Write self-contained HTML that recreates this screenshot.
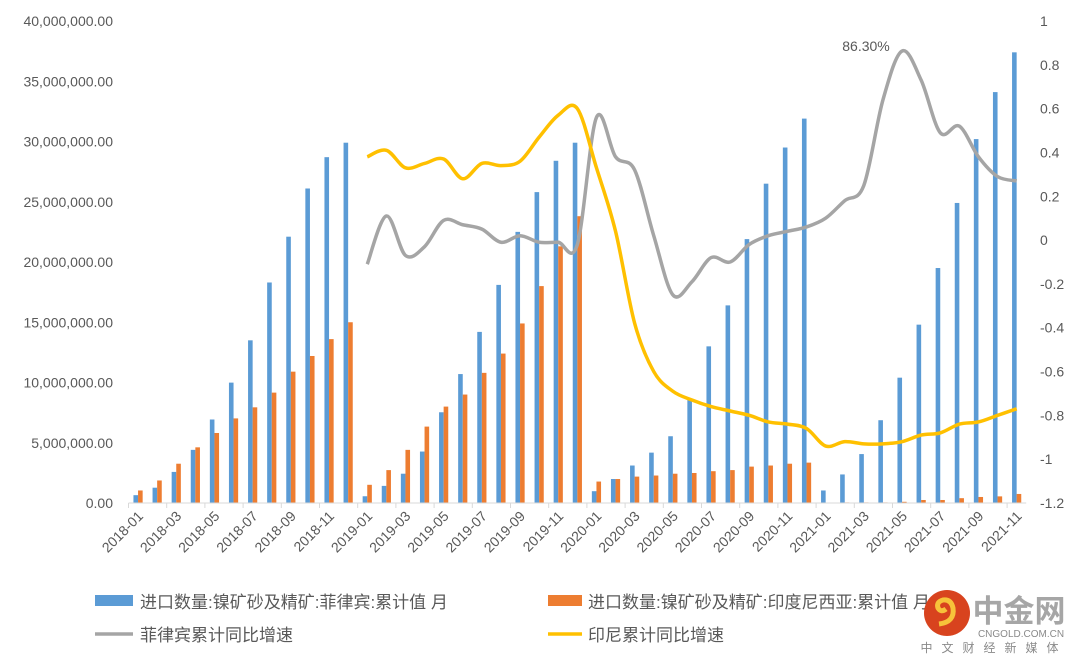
<!DOCTYPE html>
<html><head><meta charset="utf-8"><style>
html,body{margin:0;padding:0;background:#fff;width:1080px;height:663px;overflow:hidden;font-family:"Liberation Sans","Noto Sans CJK SC",sans-serif;}
</style></head><body>
<svg id="chart" width="1080" height="663" xmlns="http://www.w3.org/2000/svg" font-family="Liberation Sans, Noto Sans CJK SC, sans-serif">
<g id="bars"></g>
<g id="lines"></g>
<g id="axes"></g>
<text x="866" y="51" font-size="14" fill="#595959" text-anchor="middle">86.30%</text>
<g font-size="17" fill="#595959">
 <g><rect x="95" y="595" width="38" height="11" fill="#5B9BD5"/><text x="140" y="608">进口数量:镍矿砂及精矿:菲律宾:累计值 月</text></g>
 <g><rect x="548" y="595" width="34" height="11" fill="#ED7D31"/><text x="588" y="608">进口数量:镍矿砂及精矿:印度尼西亚:累计值 月</text></g>
 <g><line x1="95" y1="634" x2="133" y2="634" stroke="#A5A5A5" stroke-width="3.5"/><text x="140" y="641">菲律宾累计同比增速</text></g>
 <g><line x1="548" y1="634" x2="582" y2="634" stroke="#FFC000" stroke-width="3.5"/><text x="588" y="641">印尼累计同比增速</text></g>
</g>
<g>
 <circle cx="947" cy="613" r="23" fill="#D8431E"/>
 <path d="M939 624 q16 -2 14 -16 q-2 -9 -10 -8 q-7 2 -5 8 q3 5 8 1" fill="none" stroke="#F7C23A" stroke-width="5"/>
 <text x="1019" y="622" font-size="31" font-weight="bold" fill="#a6a6a6" text-anchor="middle">中金网</text>
 <text x="1021" y="637" font-size="10" fill="#8a8a8a" text-anchor="middle">CNGOLD.COM.CN</text>
 <text x="994" y="652" font-size="12" fill="#8a8a8a" text-anchor="middle" letter-spacing="9">中文财经新媒体</text>
</g>
</svg>
<script>
const categories = [];
for (let y = 2018; y <= 2021; y++) for (let m = 1; m <= 12; m++) { if (y === 2021 && m > 11) break; categories.push(y + '-' + String(m).padStart(2, '0')); }
const philippinesValues = [0.65,1.27,2.58,4.41,6.93,9.99,13.5,18.3,22.1,26.1,28.7,29.9,
 0.56,1.42,2.43,4.27,7.53,10.7,14.2,18.1,22.5,25.8,28.4,29.9,
 0.98,1.99,3.11,4.18,5.54,8.6,13.0,16.4,21.9,26.5,29.5,31.9,
 1.04,2.37,4.06,6.87,10.4,14.8,19.5,24.9,30.2,34.1,37.4];
const indonesiaValues = [1.04,1.87,3.26,4.62,5.81,7.02,7.94,9.16,10.9,12.2,13.6,15.0,
 1.51,2.73,4.41,6.34,8.0,9.0,10.8,12.4,14.9,18.0,21.3,23.8,
 1.78,1.99,2.19,2.28,2.43,2.49,2.64,2.73,3.02,3.11,3.26,3.35,
 0,0.05,0.05,0.05,0.1,0.25,0.25,0.4,0.5,0.55,0.75];
const philippinesYoY = [null,null,null,null,null,null,null,null,null,null,null,null,
 -0.11,0.11,-0.07,-0.03,0.09,0.07,0.05,-0.01,0.02,-0.01,-0.01,-0.02,
 0.56,0.38,0.32,0.02,-0.25,-0.19,-0.08,-0.1,-0.02,0.02,0.04,0.06,
 0.10,0.18,0.25,0.64,0.863,0.73,0.49,0.52,0.38,0.29,0.27];
const indonesiaYoY = [null,null,null,null,null,null,null,null,null,null,null,null,
 0.38,0.41,0.33,0.35,0.37,0.28,0.35,0.34,0.36,0.47,0.57,0.60,
 0.33,0.04,-0.38,-0.6,-0.69,-0.73,-0.76,-0.78,-0.8,-0.83,-0.84,-0.86,
 -0.94,-0.92,-0.93,-0.93,-0.92,-0.89,-0.88,-0.84,-0.83,-0.8,-0.77];
const leftTicks = [0,5,10,15,20,25,30,35,40];
const rightTicks = [1,0.8,0.6,0.4,0.2,0,-0.2,-0.4,-0.6,-0.8,-1,-1.2];

const NS = 'http://www.w3.org/2000/svg';
const X0 = 128.5, CW = 19.1, Y0 = 503, Y1 = 21;
const xC = i => X0 + CW * (i + 0.5);
const yL = v => Y0 - (v / 40) * (Y0 - Y1);
const yR = v => Y0 - ((v + 1.2) / 2.2) * (Y0 - Y1);
function mk(tag, attrs, parent) { const e = document.createElementNS(NS, tag); for (const k in attrs) e.setAttribute(k, attrs[k]); parent.appendChild(e); return e; }
const bars = document.getElementById('bars'), lines = document.getElementById('lines'), axes = document.getElementById('axes');

categories.forEach((c, i) => {
  let r = mk('rect', {x: xC(i) - 4.6, y: yL(philippinesValues[i]), width: 4.6, height: Y0 - yL(philippinesValues[i]), fill: '#5B9BD5'}, bars);
  
  
  let o = mk('rect', {x: xC(i), y: yL(indonesiaValues[i]), width: 4.6, height: Y0 - yL(indonesiaValues[i]), fill: '#ED7D31'}, bars);
  
  
});

function smoothPath(vals) {
  const pts = []; vals.forEach((v, i) => { if (v !== null) pts.push([xC(i), yR(v)]); });
  let d = 'M' + pts[0][0] + ' ' + pts[0][1];
  for (let i = 0; i < pts.length - 1; i++) {
    const p0 = pts[i - 1] || pts[i], p1 = pts[i], p2 = pts[i + 1], p3 = pts[i + 2] || p2;
    const t = 1 / 6;
    d += ' C' + (p1[0] + (p2[0] - p0[0]) * t) + ' ' + (p1[1] + (p2[1] - p0[1]) * t) + ' ' + (p2[0] - (p3[0] - p1[0]) * t) + ' ' + (p2[1] - (p3[1] - p1[1]) * t) + ' ' + p2[0] + ' ' + p2[1];
  }
  return d;
}
const lp = mk('path', {d: smoothPath(philippinesYoY), fill: 'none', stroke: '#A5A5A5', 'stroke-width': 3.5, 'stroke-linejoin': 'round'}, lines);


const li = mk('path', {d: smoothPath(indonesiaYoY), fill: 'none', stroke: '#FFC000', 'stroke-width': 3.5, 'stroke-linejoin': 'round'}, lines);



const ax = mk('line', {x1: X0, y1: Y0, x2: X0 + CW * categories.length, y2: Y0, stroke: '#D9D9D9', 'stroke-width': 1}, axes);


for (let i = 0; i <= categories.length; i += 2) {
  const t = mk('line', {x1: X0 + CW * i, y1: Y0, x2: X0 + CW * i, y2: Y0 + 5, stroke: '#D9D9D9'}, axes);
  
  
}
categories.forEach((c, i) => {
  if (i % 2) return;
  const x = xC(i) + 6, y = Y0 + 14;
  const t = mk('text', {x: x, y: y, 'font-size': 14, fill: '#595959', 'text-anchor': 'end', transform: 'rotate(-45 ' + x + ' ' + y + ')'}, axes);
  t.textContent = c;
  
  
});
leftTicks.forEach(v => {
  const t = mk('text', {x: 113, y: yL(v) + 5, 'font-size': 14, fill: '#595959', 'text-anchor': 'end'}, axes);
  t.textContent = (v * 1000000).toLocaleString('en-US', {minimumFractionDigits: 2, maximumFractionDigits: 2});
  
  
});
rightTicks.forEach(v => {
  const t = mk('text', {x: 1040, y: yR(v) + 5, 'font-size': 14, fill: '#595959'}, axes);
  t.textContent = String(v);
  
  
});
</script>
</body></html>
